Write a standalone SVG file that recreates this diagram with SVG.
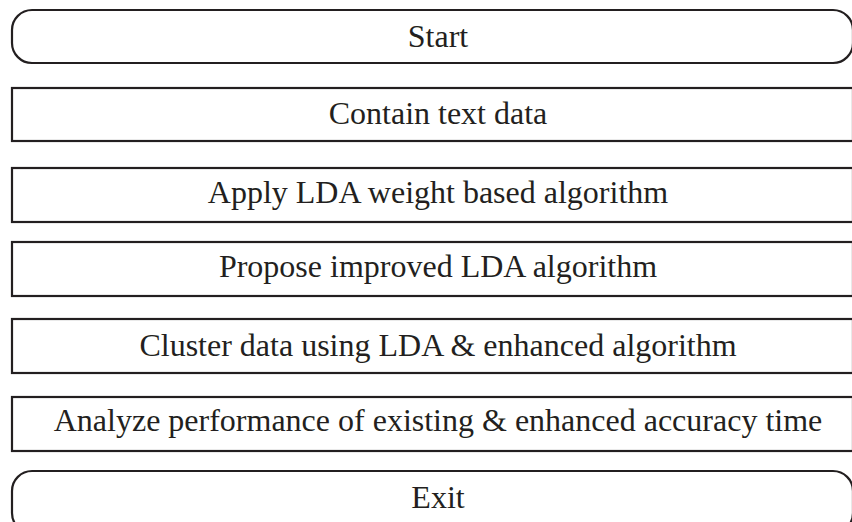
<svg xmlns="http://www.w3.org/2000/svg" width="852" height="522" viewBox="0 0 852 522">
<style>
.box{fill:#fff;stroke:#231f20;stroke-width:2.2}
.lbl{font-family:"Liberation Serif","Times New Roman",serif;font-size:32px;fill:#231f20;text-anchor:middle}
</style>
<rect width="852" height="522" fill="#fff"/>
<g id="connectors"/>
<g id="start"><rect class="box" x="12" y="10" width="841" height="53" rx="20" ry="20"/><text class="lbl" x="438" y="47">Start</text></g>
<g id="contain"><rect class="box" x="12" y="88" width="841" height="53"/><text class="lbl" x="438" y="124">Contain text data</text></g>
<g id="apply"><rect class="box" x="12" y="168" width="841" height="54"/><text class="lbl" x="438" y="203">Apply LDA weight based algorithm</text></g>
<g id="propose"><rect class="box" x="12" y="242" width="841" height="54"/><text class="lbl" x="438" y="277">Propose improved LDA algorithm</text></g>
<g id="cluster"><rect class="box" x="12" y="319" width="841" height="54"/><text class="lbl" x="438" y="356">Cluster data using LDA &amp; enhanced algorithm</text></g>
<g id="analyze"><rect class="box" x="12" y="397" width="841" height="54"/><text class="lbl" x="438" y="431">Analyze performance of existing &amp; enhanced accuracy time</text></g>
<g id="exit"><rect class="box" x="12" y="471" width="841" height="62" rx="20" ry="20"/><text class="lbl" x="438" y="508">Exit</text></g>
</svg>
